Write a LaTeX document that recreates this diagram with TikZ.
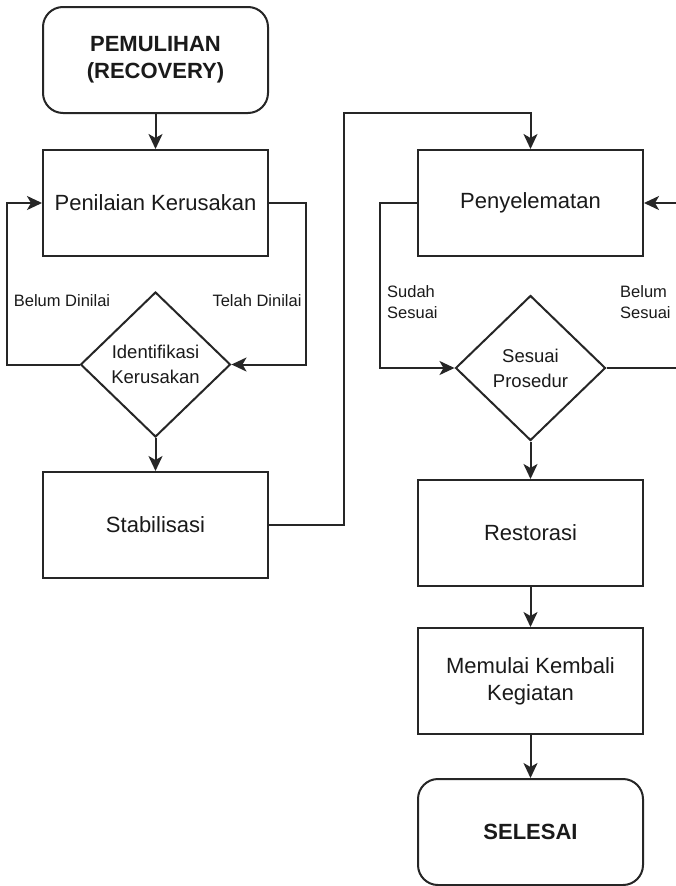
\documentclass[tikz,border=0pt]{standalone}
\usepackage{fontspec}
\setmainfont{Liberation Sans}
\usetikzlibrary{shapes.geometric,arrows.meta}
\definecolor{ln}{HTML}{262626}
\definecolor{tx}{HTML}{1A1A1A}
\tikzset{
  box/.style={draw=ln,line width=2pt,rectangle,minimum width=225pt,minimum height=106pt,inner sep=0pt,text=tx,font=\fontsize{22}{27}\selectfont,align=center},
  term/.style={box,rounded corners=20pt,font=\fontsize{22}{27}\selectfont\bfseries},
  dia/.style={draw=ln,line width=2pt,diamond,minimum width=150pt,minimum height=145pt,inner sep=0pt,text=tx,font=\fontsize{18.5}{25}\selectfont,align=center},
  lbl/.style={text=tx,font=\fontsize{16.5}{21}\selectfont,inner sep=0pt},
  arr/.style={draw=ln,line width=2pt,-{Stealth[length=15pt,width=14pt,inset=4pt]}},
  ln/.style={draw=ln,line width=2pt}
}
\begin{document}
\begin{tikzpicture}[x=1pt,y=-1pt]
\useasboundingbox (0,0) rectangle (675,886);
\fill[white] (0,0) rectangle (675,886);
\node[term] (pem) at (155.5,60) {PEMULIHAN\\(RECOVERY)};
\node[box] (pen) at (155.5,203) {Penilaian Kerusakan};
\node[dia] (d1) at (155.5,364.5) {Identifikasi\\Kerusakan};
\node[box] (stab) at (155.5,525) {Stabilisasi};
\node[box] (pys) at (530.5,203) {Penyelematan};
\node[dia] (d2) at (530.5,368) {Sesuai\\Prosedur};
\node[box] (res) at (530.5,533) {Restorasi};
\node[box] (mem) at (530.5,681) {Memulai Kembali\\Kegiatan};
\node[term] (sel) at (530.5,832) {SELESAI};
\node[lbl] (l1) at (62,301) {Belum Dinilai};
\node[lbl] (l2) at (257,301) {Telah Dinilai};
\node[lbl,align=left,anchor=west] (l3) at (387,302) {Sudah\\Sesuai};
\node[lbl,align=left,anchor=west] (l4) at (620,302) {Belum\\Sesuai};
\coordinate (L1) at (7,0);
\coordinate (R1) at (306,0);
\coordinate (c1) at (344,113);
\coordinate (L2) at (380,0);
\coordinate (R2) at (720,0);
\draw[arr] (pem.south) -- (pen.north);
\draw[arr] (d1.west) -- (d1.west -| L1) |- (pen.west);
\draw[arr] (pen.east) -- (pen.east -| R1) |- (d1.east);
\draw[arr] (d1.south) -- (stab.north);
\draw[arr] (stab.east) -| (c1) -| (pys.north);
\draw[arr] (pys.west) -- (pys.west -| L2) |- (d2.west);
\draw[arr] (d2.east) -- (d2.east -| R2) |- (pys.east);
\draw[arr] (d2.south) -- (res.north);
\draw[arr] (res.south) -- (mem.north);
\draw[arr] (mem.south) -- (sel.north);
\end{tikzpicture}
\end{document}
